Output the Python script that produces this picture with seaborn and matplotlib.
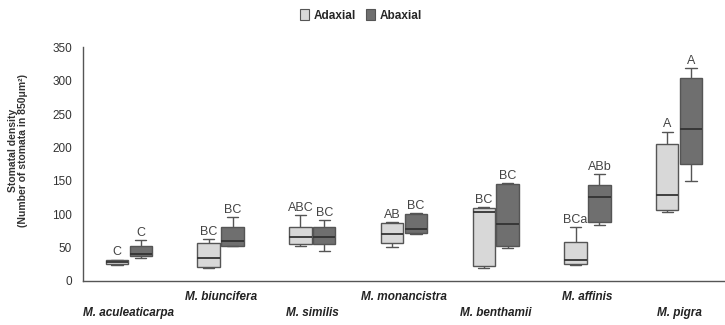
import numpy as np
import pandas as pd
import seaborn as sns
import matplotlib
matplotlib.use("Agg")
import matplotlib.pyplot as plt
from matplotlib.patches import Patch

species = ["M. aculeaticarpa", "M. biuncifera", "M. similis", "M. monancistra",
           "M. benthamii", "M. affinis", "M. pigra"]
surfaces = ["Adaxial", "Abaxial"]
# five-number summaries: min, q1, median, q3, max
adaxial = [[24, 26, 28, 31, 32],
           [19, 21, 34, 57, 63],
           [52, 55, 66, 81, 99],
           [51, 57, 70, 87, 88],
           [20, 23, 103, 110, 111],
           [24, 26, 32, 58, 81],
           [103, 107, 129, 205, 224]]
abaxial = [[35, 37, 40, 52, 61],
           [52, 53, 60, 81, 96],
           [45, 55, 66, 81, 91],
           [70, 72, 78, 100, 102],
           [50, 52, 85, 145, 147],
           [84, 89, 126, 144, 160],
           [150, 175, 228, 304, 319]]
letters_ad = ["C", "BC", "ABC", "AB", "BC", "BCa", "A"]
letters_ab = ["C", "BC", "BC", "BC", "BC", "ABb", "A"]
y_ticks = [0, 50, 100, 150, 200, 250, 300, 350]

rows = []
for i, sp in enumerate(species):
    for v in adaxial[i]:
        rows.append((sp, "Adaxial", v))
    for v in abaxial[i]:
        rows.append((sp, "Abaxial", v))
df = pd.DataFrame(rows, columns=["species", "surface", "value"])

sns.set_style("white")
plt.rcParams["font.family"] = ["Liberation Sans", "DejaVu Sans"]

fig = plt.figure(figsize=(7.25, 3.25), dpi=100)
ax = fig.add_axes([0.1145, 0.1354, 0.8855, 0.7185])

colors = {"Adaxial": "#d8d8d8", "Abaxial": "#6f6f6f"}
W = 0.52
sns.boxplot(data=df, x="species", y="value", hue="surface", order=species,
            hue_order=surfaces, palette=colors, whis=(0, 100), width=W, gap=0.06,
            linewidth=1.0, linecolor="#555555", fliersize=0,
            medianprops=dict(color="#333333", linewidth=1.3), ax=ax, legend=False)

off = W / 4
for i in range(len(species)):
    ax.text(i - off, adaxial[i][4] + 2, letters_ad[i], ha="center", va="bottom",
            fontsize=9, color="#444444")
    ax.text(i + off, abaxial[i][4] + 2, letters_ab[i], ha="center", va="bottom",
            fontsize=9, color="#444444")

ax.set_xlim(-0.5, len(species) - 0.5)
ax.set_ylim(0, 350)
ax.set_yticks(y_ticks)
ax.set_yticklabels([str(t) for t in y_ticks], fontsize=8.5, color="#333333")
ax.tick_params(axis="y", length=0, pad=8)

ax.set_xticks(range(len(species)))
ax.set_xticklabels(species, fontsize=8.5, fontweight="bold", fontstyle="italic",
                   color="#222222")
ax.tick_params(axis="x", which="major", length=0)
for i, t in enumerate(ax.xaxis.get_major_ticks()):
    t.set_pad(18.5 if i % 2 == 0 else 7)
ax.set_xticks(np.arange(0.5, len(species) - 0.5, 1), minor=True)
ax.tick_params(axis="x", which="minor", length=4, direction="inout", color="#666666")

ax.set_xlabel("")
ax.set_ylabel("Stomatal density\n(Number of stomata in 850\u03bcm\u00b2)", fontsize=7.5,
              fontweight="bold", color="#333333", linespacing=1.1)
ax.yaxis.set_label_coords(-0.085, 0.56)

for s in ["top", "right"]:
    ax.spines[s].set_visible(False)
for s in ["left", "bottom"]:
    ax.spines[s].set_color("#555555")
    ax.spines[s].set_linewidth(1.0)

handles = [Patch(facecolor=colors[s], edgecolor="#555555", linewidth=0.8) for s in surfaces]
fig.legend(handles, surfaces, loc="center", bbox_to_anchor=(0.498, 0.953), ncol=2,
           frameon=False, prop=dict(size=8.5, weight="bold"), handlelength=0.8,
           handleheight=1.1, handletextpad=0.4, columnspacing=0.8)

fig.savefig("out.png", dpi=100)
